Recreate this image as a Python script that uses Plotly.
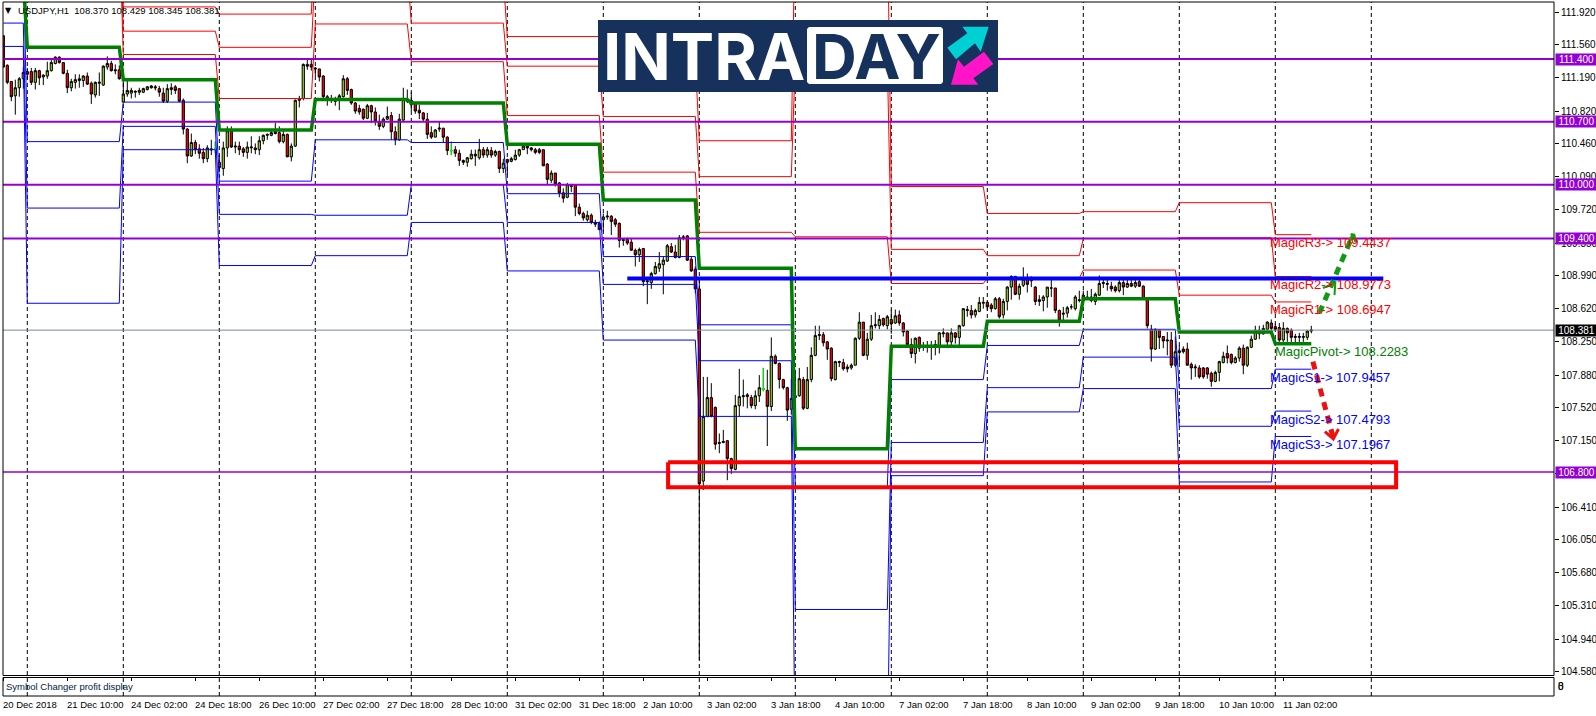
import plotly.graph_objects as go

symbol_title = "USDJPY,H1  108.370 108.429 108.345 108.381"
date_labels = ["20 Dec 2018","21 Dec 10:00","24 Dec 02:00","24 Dec 18:00","26 Dec 10:00","27 Dec 02:00","27 Dec 18:00",
               "28 Dec 10:00","31 Dec 02:00","31 Dec 18:00","2 Jan 10:00","3 Jan 02:00","3 Jan 18:00","4 Jan 10:00",
               "7 Jan 02:00","7 Jan 18:00","8 Jan 10:00","9 Jan 02:00","9 Jan 18:00","10 Jan 10:00","11 Jan 02:00"]
price_ticks = ["111.920","111.560","111.190","110.820","110.460","110.090","109.720","109.350","108.990","108.620",
               "108.250","107.880","107.520","107.150","106.780","106.410","106.050","105.680","105.310","104.940","104.580"]

opens = [111.66,111.33,111.15,110.99,111.08,111.18,111.26,111.26,111.14,111.27,111.20,111.21,111.27,111.35,111.42,111.36,111.24,111.08,111.14,111.16,111.16,111.21,111.13,111.00,
 111.13,111.11,111.31,111.35,111.28,111.28,110.92,111.01,111.02,111.03,111.03,111.03,111.06,111.10,111.09,111.07,111.02,110.93,111.08,111.09,111.07,110.94,110.62,110.32,
 110.47,110.40,110.36,110.29,110.40,110.40,110.25,110.18,110.41,110.60,110.42,110.43,110.40,110.36,110.41,110.41,110.39,110.49,110.55,110.55,110.59,110.58,110.48,110.56,
 110.31,110.43,110.94,110.96,111.34,111.34,111.30,111.29,111.21,110.98,110.95,110.94,110.94,110.98,111.18,111.06,110.91,110.85,110.84,110.74,110.88,110.81,110.70,110.65,
 110.73,110.77,110.59,110.50,110.72,110.95,110.94,110.90,110.83,110.80,110.73,110.58,110.53,110.62,110.63,110.53,110.38,110.39,110.35,110.27,110.25,110.29,110.34,110.30,
 110.39,110.33,110.38,110.33,110.37,110.18,110.28,110.26,110.28,110.33,110.39,110.43,110.41,110.39,110.39,110.39,110.23,110.05,110.13,110.02,109.91,109.86,109.98,110.00,
 109.75,109.68,109.61,109.66,109.58,109.57,109.61,109.64,109.65,109.61,109.57,109.39,109.39,109.36,109.27,109.22,109.29,108.93,108.91,109.01,109.07,109.11,109.15,109.31,
 109.25,109.19,109.42,109.43,109.17,109.06,108.84,106.70,107.42,107.63,107.52,107.13,107.13,107.15,106.95,106.83,107.54,107.64,107.66,107.63,107.54,107.65,107.72,107.71,
 107.53,108.09,108.01,107.83,107.74,107.50,107.63,107.65,107.83,107.51,107.83,108.10,108.32,108.33,108.25,108.18,107.83,108.02,108.02,107.97,107.96,107.99,108.29,108.47,
 108.10,108.28,108.43,108.43,108.51,108.43,108.50,108.46,108.55,108.46,108.37,108.22,108.12,108.30,108.20,108.19,108.20,108.21,108.20,108.34,108.35,108.25,108.35,108.30,
 108.43,108.61,108.60,108.55,108.59,108.68,108.69,108.66,108.62,108.73,108.55,108.70,108.86,108.98,108.78,108.88,108.95,108.95,108.86,108.72,108.71,108.75,108.85,108.85,
 108.60,108.57,108.57,108.64,108.62,108.72,108.71,108.75,108.75,108.70,108.77,108.90,108.89,108.87,108.86,108.82,108.91,108.86,108.90,108.87,108.92,108.87,108.73,108.39,
 108.17,108.38,108.31,108.26,108.27,107.99,108.13,108.17,108.17,108.00,107.96,107.96,107.96,107.96,107.90,107.81,107.91,108.02,108.12,108.11,108.02,108.07,108.18,107.99,
 108.19,108.28,108.34,108.34,108.39,108.46,108.42,108.41,108.27,108.40,108.38,108.30,108.30,108.30,108.30,108.370]
highs = [111.66,111.34,111.15,111.17,111.20,111.31,111.30,111.30,111.30,111.28,111.23,111.37,111.41,111.43,111.43,111.36,111.28,111.18,111.23,111.23,111.22,111.25,111.15,111.15,
 111.25,111.33,111.43,111.38,111.34,111.33,111.17,111.18,111.08,111.05,111.08,111.08,111.10,111.11,111.11,111.10,111.08,111.12,111.13,111.11,111.07,110.96,110.63,110.57,
 110.50,110.45,110.41,110.44,110.50,110.48,110.33,110.48,110.65,110.65,110.48,110.48,110.42,110.48,110.54,110.46,110.54,110.56,110.57,110.60,110.69,110.65,110.61,110.57,
 110.46,110.95,110.99,111.35,111.40,111.41,111.31,111.29,111.22,111.00,111.00,110.98,111.01,111.22,111.20,111.07,110.92,110.89,110.85,110.90,110.89,110.86,110.78,110.75,
 110.87,110.81,110.65,110.79,111.08,111.06,111.03,110.92,110.89,110.81,110.80,110.65,110.62,110.70,110.63,110.54,110.48,110.43,110.39,110.28,110.31,110.39,110.39,110.51,
 110.42,110.42,110.42,110.39,110.38,110.29,110.29,110.31,110.39,110.40,110.45,110.45,110.42,110.41,110.41,110.39,110.24,110.16,110.13,110.03,109.96,110.02,110.01,110.00,
 109.79,109.70,109.71,109.68,109.61,109.59,109.68,109.71,109.66,109.63,109.58,109.40,109.41,109.40,109.29,109.30,109.29,108.96,109.03,109.14,109.25,109.20,109.34,109.35,
 109.33,109.44,109.44,109.44,109.20,109.09,108.96,107.86,107.86,107.79,107.53,107.23,107.27,107.15,106.96,107.66,107.95,107.83,107.68,107.66,107.71,107.88,107.96,107.94,
 108.30,108.11,108.02,107.84,107.75,107.84,107.93,107.96,107.86,107.97,108.19,108.43,108.43,108.36,108.26,108.19,108.04,108.04,108.06,108.00,108.01,108.30,108.58,108.47,
 108.35,108.55,108.58,108.55,108.52,108.55,108.61,108.61,108.60,108.47,108.38,108.29,108.30,108.31,108.25,108.26,108.26,108.27,108.36,108.40,108.35,108.40,108.36,108.44,
 108.62,108.65,108.66,108.62,108.75,108.75,108.70,108.68,108.75,108.75,108.73,108.87,108.99,108.98,108.90,109.08,109.01,108.98,108.87,108.77,108.77,108.86,108.94,108.85,
 108.61,108.64,108.65,108.67,108.77,108.82,108.82,108.82,108.84,108.80,108.99,108.94,108.94,108.92,108.88,108.94,108.94,108.94,108.94,108.94,108.94,108.88,108.75,108.44,
 108.40,108.39,108.31,108.36,108.36,108.31,108.21,108.20,108.24,108.02,108.00,107.99,107.97,107.97,107.92,107.93,108.04,108.14,108.21,108.12,108.09,108.20,108.22,108.20,
 108.32,108.43,108.43,108.44,108.48,108.50,108.45,108.46,108.47,108.41,108.40,108.34,108.35,108.35,108.38,108.429]
lows = [111.31,111.12,110.93,110.78,110.98,111.07,111.17,111.11,111.06,111.11,111.11,111.18,111.26,111.34,111.35,111.23,111.02,111.04,111.07,111.08,111.09,111.11,110.90,110.97,
 110.99,111.10,111.28,111.26,111.23,111.17,110.92,110.98,110.96,110.97,111.00,111.02,111.05,111.07,111.05,110.98,110.91,110.91,111.00,111.01,110.92,110.56,110.24,110.31,
 110.34,110.29,110.24,110.25,110.33,110.35,110.14,110.10,110.31,110.41,110.35,110.33,110.31,110.29,110.35,110.34,110.33,110.45,110.50,110.54,110.56,110.46,110.46,110.31,
 110.26,110.42,110.86,110.94,111.28,111.27,111.21,111.15,110.96,110.88,110.91,110.88,110.83,110.97,111.00,110.89,110.79,110.78,110.72,110.73,110.69,110.66,110.61,110.63,
 110.72,110.50,110.44,110.49,110.71,110.91,110.82,110.79,110.73,110.70,110.51,110.51,110.53,110.59,110.47,110.33,110.33,110.31,110.21,110.22,110.20,110.28,110.21,110.28,
 110.30,110.30,110.30,110.31,110.13,110.13,110.11,110.25,110.27,110.31,110.39,110.34,110.37,110.34,110.34,110.21,110.00,110.02,109.98,109.86,109.80,109.85,109.92,109.65,
 109.66,109.60,109.59,109.56,109.53,109.50,109.48,109.61,109.44,109.53,109.30,109.32,109.33,109.27,109.09,109.14,108.87,108.67,108.84,109.00,109.03,108.78,109.14,109.24,
 109.18,109.18,109.38,109.15,109.03,108.79,104.71,106.60,107.41,107.41,107.05,107.01,107.12,106.71,106.78,106.82,107.42,107.53,107.51,107.51,107.50,107.58,107.70,107.09,
 107.48,108.00,107.73,107.72,107.37,107.44,107.38,107.64,107.49,107.50,107.80,108.09,108.27,108.20,108.05,107.81,107.82,107.97,107.93,107.91,107.94,107.99,108.27,108.09,
 108.05,108.26,108.40,108.39,108.42,108.39,108.34,108.45,108.43,108.31,108.21,108.07,108.01,108.14,108.15,108.13,108.05,108.10,108.12,108.30,108.20,108.20,108.23,108.18,
 108.42,108.53,108.51,108.52,108.58,108.62,108.60,108.58,108.61,108.51,108.51,108.60,108.72,108.77,108.72,108.86,108.80,108.86,108.66,108.65,108.59,108.63,108.75,108.57,
 108.42,108.49,108.52,108.61,108.60,108.69,108.68,108.72,108.69,108.66,108.76,108.85,108.82,108.81,108.80,108.80,108.77,108.85,108.86,108.85,108.86,108.72,108.40,108.03,
 108.16,108.17,108.18,108.10,107.96,107.97,108.01,108.12,107.99,107.83,107.86,107.84,107.84,107.84,107.75,107.80,107.81,108.01,108.01,108.00,108.01,108.03,107.89,107.97,
 108.18,108.27,108.28,108.33,108.37,108.38,108.37,108.25,108.25,108.25,108.23,108.24,108.22,108.25,108.27,108.345]
closes = [111.31,111.14,110.98,111.08,111.18,111.25,111.23,111.14,111.27,111.19,111.22,111.27,111.36,111.42,111.36,111.24,111.08,111.15,111.17,111.18,111.21,111.12,111.01,111.14,
 111.14,111.32,111.35,111.27,111.27,111.18,111.01,111.05,111.05,111.04,111.05,111.07,111.09,111.08,111.08,111.03,110.93,111.07,111.06,111.05,110.93,110.62,110.32,110.47,
 110.39,110.35,110.29,110.41,110.39,110.40,110.19,110.41,110.60,110.42,110.43,110.39,110.36,110.42,110.42,110.39,110.49,110.55,110.56,110.58,110.57,110.48,110.56,110.31,
 110.43,110.94,110.96,111.34,111.32,111.31,111.29,111.20,110.98,110.95,110.94,110.93,110.99,111.18,111.05,110.91,110.82,110.81,110.74,110.88,110.81,110.71,110.65,110.73,
 110.76,110.59,110.50,110.73,110.95,110.93,110.89,110.82,110.80,110.73,110.56,110.53,110.61,110.63,110.53,110.38,110.38,110.35,110.27,110.25,110.30,110.34,110.32,110.39,
 110.33,110.39,110.33,110.37,110.18,110.24,110.25,110.29,110.33,110.39,110.43,110.41,110.39,110.36,110.36,110.21,110.06,110.13,110.01,109.91,109.85,110.00,109.99,109.75,
 109.68,109.63,109.66,109.58,109.56,109.50,109.64,109.65,109.59,109.56,109.38,109.38,109.35,109.27,109.22,109.28,108.92,108.92,109.01,109.09,109.12,109.16,109.32,109.25,
 109.19,109.41,109.41,109.16,109.04,108.84,106.67,107.42,107.63,107.42,107.11,107.12,107.14,106.95,106.84,107.54,107.64,107.65,107.64,107.54,107.65,107.74,107.73,107.53,
 108.09,108.01,107.83,107.74,107.49,107.62,107.65,107.84,107.51,107.83,108.10,108.32,108.33,108.24,108.17,107.84,108.03,108.03,107.95,107.95,107.99,108.29,108.47,108.10,
 108.28,108.43,108.44,108.50,108.44,108.53,108.45,108.54,108.46,108.36,108.22,108.12,108.29,108.18,108.21,108.20,108.21,108.22,108.35,108.35,108.25,108.35,108.30,108.43,
 108.62,108.60,108.55,108.60,108.69,108.69,108.64,108.62,108.73,108.53,108.70,108.86,108.98,108.78,108.87,108.95,108.89,108.93,108.70,108.70,108.75,108.86,108.85,108.60,
 108.49,108.56,108.63,108.64,108.75,108.71,108.77,108.73,108.71,108.78,108.90,108.91,108.90,108.84,108.82,108.91,108.86,108.90,108.87,108.91,108.87,108.73,108.43,108.17,
 108.39,108.30,108.26,108.27,107.99,108.14,108.15,108.14,107.99,107.96,107.97,107.86,107.86,107.89,107.81,107.91,108.03,108.09,108.07,108.02,108.07,108.18,107.99,108.19,
 108.28,108.38,108.38,108.40,108.47,108.40,108.39,108.27,108.40,108.35,108.30,108.31,108.31,108.31,108.37,108.381]
lime_bars = [53, 112, 190]

day_starts = [0,6,30,54,78,102,126,150,174,198,222,246,270,294,318]
last_bar = 327
pivot = [112.30,111.53,111.17,110.61,110.95,110.91,110.45,109.83,109.07,107.06,108.20,108.48,108.73,108.36,108.2283]
r1 = [112.90,112.90,111.45,110.96,111.79,111.37,110.77,110.14,109.47,109.42,108.90,108.96,109.05,108.77,108.6947]
r2 = [113.20,113.20,111.71,111.53,112.40,111.80,111.32,110.76,110.09,111.39,109.28,109.21,109.40,109.41,108.9773]
r3 = [113.50,113.50,111.98,111.90,112.80,112.30,111.65,111.39,110.49,113.00,109.98,109.68,109.70,109.80,109.4437]
s1 = [112.50,110.48,110.92,110.04,110.50,110.47,109.90,109.20,108.44,106.63,107.83,108.21,108.39,107.73,107.9457]
s2 = [111.80,109.74,110.65,109.67,109.66,110.00,109.58,108.89,108.04,105.27,107.13,107.74,108.08,107.31,107.4793]
s3 = [111.54,108.68,110.39,109.10,109.21,109.58,109.04,108.27,107.42,103.50,106.76,107.47,107.73,106.69,107.1967]

purple_levels = [111.4, 110.7, 110.0, 109.4, 106.8]
purple_labels = ["111.400", "110.700", "110.000", "109.400", "106.800"]
last_price = 108.381
resistance_price = 108.955
resistance_bars = [156, 345]
zone_prices = [106.63, 106.91]
zone_bars = [166.2, 348.2]

up_arrow_bars = [329, 337.5]
up_arrow_prices = [108.57, 109.45]
up_head_bars = [336.2, 337.5, 338.2]
up_head_prices = [109.34, 109.45, 109.36]
up_mid_bars = [329.9, 333, 332.8]
up_mid_prices = [108.85, 108.91, 108.77]
down_arrow_bars = [327.4, 332.5]
down_arrow_prices = [108.03, 107.18]
down_head_bars = [330.4, 332.5, 333.8]
down_head_prices = [107.25, 107.17, 107.28]

magic_labels = [("MagicR3-> 109.4437", 109.4437, "#ff0000"), ("MagicR2-> 108.9773", 108.9773, "#ff0000"),
                ("MagicR1-> 108.6947", 108.6947, "#ff0000"), ("MagicPivot-> 108.2283", 108.2283, "#008000"),
                ("MagicS1-> 107.9457", 107.9457, "#0000ff"), ("MagicS2-> 107.4793", 107.4793, "#0000ff"),
                ("MagicS3-> 107.1967", 107.1967, "#0000ff")]

WIDTH, HEIGHT = 1596, 716
PL, PR, PT, PB = 3, 1554, 2, 696
def fx(px): return (px - PL) / (PR - PL)
def fy(py): return (PB - py) / (PB - PT)

axis_font = dict(family="Liberation Sans, sans-serif", size=9.5, color="#000000")
price_font = dict(family="Liberation Sans, sans-serif", size=10, color="#000000")
bars = list(range(len(opens)))
sep_bars = [6 + 24 * k for k in range(15)]
date_ticks = [16 * k for k in range(len(date_labels))]

def steps(levels):
    xs, ys = [], []
    for d, lv in enumerate(levels):
        start = day_starts[d]
        end = day_starts[d + 1] - 1 if d + 1 < len(day_starts) else last_bar
        xs += [start, end]
        ys += [lv, lv]
    return xs, ys

fig = go.Figure()
fig.add_trace(go.Candlestick(x=bars, open=opens, high=highs, low=lows, close=closes, whiskerwidth=0,
    increasing=dict(line=dict(color="#000000", width=1), fillcolor="#9acd32"),
    decreasing=dict(line=dict(color="#000000", width=1), fillcolor="#ff0000"), hoverinfo="skip"))
fig.add_trace(go.Candlestick(x=lime_bars, open=[opens[i] for i in lime_bars], high=[highs[i] for i in lime_bars],
    low=[lows[i] for i in lime_bars], close=[closes[i] for i in lime_bars], whiskerwidth=0,
    increasing=dict(line=dict(color="#00ff00", width=1), fillcolor="#00ff00"),
    decreasing=dict(line=dict(color="#00ff00", width=1), fillcolor="#00ff00"), hoverinfo="skip"))

for lv in (r3, r2, r1):
    x, y = steps(lv)
    fig.add_trace(go.Scatter(x=x, y=y, mode="lines", line=dict(color="#ff0000", width=1), hoverinfo="skip"))
for lv in (s1, s2, s3):
    x, y = steps(lv)
    fig.add_trace(go.Scatter(x=x, y=y, mode="lines", line=dict(color="#0000ff", width=1), hoverinfo="skip"))
x, y = steps(pivot)
fig.add_trace(go.Scatter(x=x, y=y, mode="lines", line=dict(color="#008000", width=3.5), hoverinfo="skip"))

XR = [(PL - 3.3) / 4, (PR - 3.3) / 4]
fig.add_trace(go.Scatter(x=XR, y=[last_price] * 2, mode="lines", line=dict(color="#778899", width=1), hoverinfo="skip"))
for lv in purple_levels:
    fig.add_trace(go.Scatter(x=XR, y=[lv, lv], mode="lines",
        line=dict(color="#9400d3", width=2 if lv > 107 else 1.5), hoverinfo="skip"))
fig.add_trace(go.Scatter(x=resistance_bars, y=[resistance_price] * 2, mode="lines", line=dict(color="#0000ff", width=4), hoverinfo="skip"))
fig.add_trace(go.Scatter(x=[zone_bars[0], zone_bars[1], zone_bars[1], zone_bars[0], zone_bars[0]],
    y=[zone_prices[1], zone_prices[1], zone_prices[0], zone_prices[0], zone_prices[1]], mode="lines",
    line=dict(color="#ff0000", width=4), hoverinfo="skip"))
fig.add_trace(go.Scatter(x=up_arrow_bars, y=up_arrow_prices, mode="lines", line=dict(color="#129a12", width=5, dash="8px,6px"), hoverinfo="skip"))
fig.add_trace(go.Scatter(x=up_head_bars, y=up_head_prices, mode="lines", line=dict(color="#129a12", width=3), hoverinfo="skip"))
fig.add_trace(go.Scatter(x=up_mid_bars, y=up_mid_prices, mode="lines", line=dict(color="#129a12", width=2), hoverinfo="skip"))
fig.add_trace(go.Scatter(x=down_arrow_bars, y=down_arrow_prices, mode="lines", line=dict(color="#ee1111", width=5, dash="8px,6px"), hoverinfo="skip"))
fig.add_trace(go.Scatter(x=down_head_bars, y=down_head_prices, mode="lines", line=dict(color="#ee1111", width=3), hoverinfo="skip"))

shapes = []
for b in sep_bars:
    shapes.append(dict(type="line", xref="x", yref="paper", x0=b, x1=b, y0=0, y1=1, layer="below",
                       line=dict(color="#000000", width=1, dash="4px,3px")))
shapes.append(dict(type="rect", xref="paper", yref="paper", x0=0, x1=1, y0=fy(675.5), y1=1, line=dict(color="#000000", width=1)))
shapes.append(dict(type="rect", xref="paper", yref="paper", x0=0, x1=1, y0=0, y1=fy(677.5), line=dict(color="#000000", width=1)))

# logo
def path_of(pts):
    return "M " + " L ".join(f"{fx(a):.5f},{fy(b):.5f}" for a, b in pts) + " Z"
shapes.append(dict(type="rect", xref="paper", yref="paper", x0=fx(598), x1=fx(998), y0=fy(92), y1=fy(20),
                   fillcolor="#16325c", line=dict(width=0), layer="above"))
bx0, bx1, by0, by1 = 807, 943, 27, 84
shapes.append(dict(type="path", xref="paper", yref="paper",
    path=path_of([(bx0+2,by0),(bx1-2,by0),(bx1,by0+2),(bx1,by1-2),(bx1-2,by1),(bx0+2,by1),(bx0,by1-2),(bx0,by0+2)]),
    fillcolor="#ffffff", line=dict(width=0), layer="above"))
def poly(points, color):
    pts = [(560 + a / 3, b / 3) for a, b in points]
    return dict(type="path", xref="paper", yref="paper", path=path_of(pts), fillcolor=color, line=dict(width=0), layer="above")
shapes.append(poly([(1207,80),(1286,80),(1262,155),(1245,130),(1188,178),(1162,143),(1222,100)], "#00d0d4"))
shapes.append(poly([(1173,254),(1194,178),(1212,200),(1272,155),(1300,192),(1240,235),(1255,254)], "#ff14c8"))

ann = []
def label(px, py, text, font=None, xanchor="left", **kw):
    ann.append(dict(xref="paper", yref="paper", x=fx(px), y=fy(py), text=text, showarrow=False, xanchor=xanchor,
                    yanchor="middle", font=font or axis_font, borderpad=0, borderwidth=0, **kw))

label(18, 10.5, symbol_title)
label(5, 10.5, "▼", font=dict(family="DejaVu Sans", size=8, color="#000000"))
label(6, 686.5, "Symbol Changer profit display", font=dict(family=axis_font["family"], size=9.5, color="#002244"))
label(1558, 686.5, "0", font=price_font)
label(1558, 686.5, "8", font=price_font)

for t, text in zip(date_ticks, date_labels):
    ann.append(dict(xref="x", yref="paper", x=t, xshift=-1, y=fy(705), text=text, showarrow=False, xanchor="left", yanchor="middle",
                    font=axis_font, borderpad=0))

for text, price, color in magic_labels:
    px = 1273.5 if "Pivot" in text else 1269
    ann.append(dict(xref="x", yref="y", x=(px - 3.3) / 4, y=price, yshift=-8, text=text, showarrow=False, xanchor="left", yanchor="middle",
                    font=dict(family="Liberation Sans, sans-serif", size=13, color=color), borderpad=0))
label(603, 57, "INTRA", font=dict(family="Inter, sans-serif", size=65, weight=700, color="#ffffff"))
label(876, 57, "DAY", font=dict(family="Inter, sans-serif", size=62, weight=700, color="#16325c"), xanchor="center")

for lv, tx in zip(purple_levels, purple_labels):
    ann.append(dict(xref="paper", yref="y", x=1, xshift=1, y=lv, text=tx, showarrow=False, xanchor="left", yanchor="middle",
                    bgcolor="#9400d3", width=41, height=11, borderpad=0, font=dict(family=price_font["family"], size=10, color="#ffffff")))
ann.append(dict(xref="paper", yref="y", x=1, xshift=1, y=last_price, text="108.381", showarrow=False, xanchor="left", yanchor="middle",
                bgcolor="#000000", width=41, height=11, borderpad=0, font=dict(family=price_font["family"], size=10, color="#ffffff")))

fig.update_layout(
    width=WIDTH, height=HEIGHT, autosize=False, showlegend=False, paper_bgcolor="#ffffff", plot_bgcolor="#ffffff",
    margin=dict(l=PL, r=WIDTH - PR, t=PT, b=HEIGHT - PB, autoexpand=False), boxgap=0.45, boxgroupgap=0,
    xaxis=dict(domain=[0, 1], anchor="y2", range=XR, rangeslider=dict(visible=False), showgrid=False, zeroline=False,
               showline=False, tickmode="array", tickvals=date_ticks, showticklabels=False,
               ticks="outside", ticklen=4, tickwidth=1, tickcolor="#000000"),
    yaxis=dict(domain=[fy(675.5), 1], anchor="x", side="right", range=[111.4 - (675.5 - 59) / 89.8, 111.4 + (59 - 2) / 89.8],
               showgrid=False, zeroline=False, showline=False, tickmode="array",
               tickvals=[float(t) for t in price_ticks], ticktext=price_ticks, ticks="outside", ticklen=4, tickwidth=1,
               tickcolor="#000000", tickfont=price_font),
    yaxis2=dict(domain=[0, fy(677.5)], anchor="x", range=[0, 1], visible=False),
    shapes=shapes, annotations=ann)

fig.write_html("out.html", config=dict(displayModeBar=False),
               post_script="document.body.style.margin='0';document.body.style.overflow='hidden';")
